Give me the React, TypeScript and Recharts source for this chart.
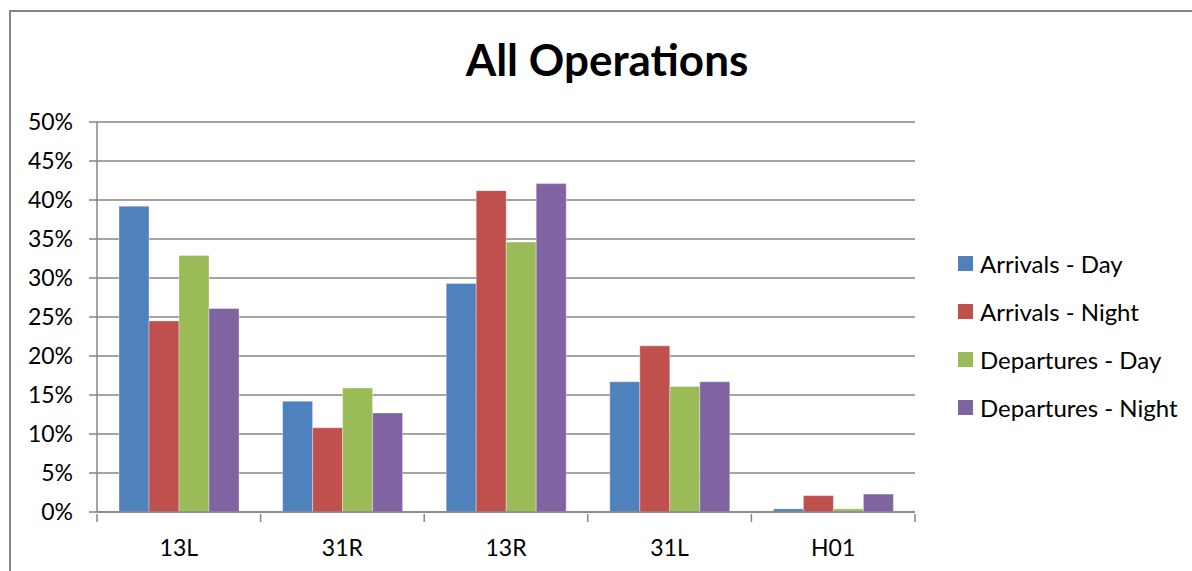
import { Bar, BarChart, CartesianGrid, XAxis, YAxis } from "recharts";

const runways = ["13L", "31R", "13R", "31L", "H01"];
const arrivalsDay = [39.2, 14.2, 29.3, 16.7, 0.4];
const arrivalsNight = [24.5, 10.8, 41.2, 21.3, 2.1];
const departuresDay = [32.9, 15.9, 34.6, 16.1, 0.4];
const departuresNight = [26.1, 12.7, 42.1, 16.7, 2.3];
const percentTicks = [0, 5, 10, 15, 20, 25, 30, 35, 40, 45, 50];

const seriesList = [
  { key: "arrivalsDay", name: "Arrivals - Day", color: "#4F81BD" },
  { key: "arrivalsNight", name: "Arrivals - Night", color: "#C0504D" },
  { key: "departuresDay", name: "Departures - Day", color: "#9BBB59" },
  { key: "departuresNight", name: "Departures - Night", color: "#8064A2" },
];

const data = runways.map((runway, i) => ({
  runway,
  arrivalsDay: arrivalsDay[i],
  arrivalsNight: arrivalsNight[i],
  departuresDay: departuresDay[i],
  departuresNight: departuresNight[i],
}));

const font = "Lato, 'Open Sans', sans-serif";
const axisGray = "#868686";
const plotLeft = 97;
const plotRight = 915;
const bandWidth = (plotRight - plotLeft) / runways.length;

// category label plus Excel-style tick marks on the category boundaries
function RunwayTick(props: any) {
  const { x, y, payload, index } = props;
  const left = x - bandWidth / 2;
  const right = x + bandWidth / 2;
  return (
    <g>
      <line x1={left} x2={left} y1={y} y2={y + 8} stroke={axisGray} strokeWidth={1.5} />
      {index === runways.length - 1 && (
        <line x1={right} x2={right} y1={y} y2={y + 8} stroke={axisGray} strokeWidth={1.5} />
      )}
      <text x={x} y={y + 42} textAnchor="middle" fill="#000" fontSize={23} fontFamily={font}>
        {payload.value}
      </text>
    </g>
  );
}

function LegendBox() {
  return (
    <div style={{ position: "absolute", left: 958, top: 239, fontFamily: font, fontSize: 24, color: "#000" }}>
      {seriesList.map((s) => (
        <div key={s.key} style={{ display: "flex", alignItems: "center", height: 48, whiteSpace: "nowrap" }}>
          <span style={{ width: 15, height: 15, background: s.color, marginRight: 7 }} />
          <span>{s.name}</span>
        </div>
      ))}
    </div>
  );
}

export default function App() {
  return (
    <div style={{ position: "absolute", left: 0, top: 0, width: 1192, height: 571, overflow: "hidden", background: "#fff" }}>
      <div
        style={{
          position: "absolute",
          left: 9,
          top: 10,
          width: 1300,
          height: 700,
          border: `2px solid ${axisGray}`,
        }}
      />
      <div
        style={{
          position: "absolute",
          left: 0,
          width: 1214,
          top: 33,
          textAlign: "center",
          fontFamily: font,
          fontWeight: 700,
          fontSize: 44,
        }}
      >
        All Operations
      </div>
      <div style={{ position: "absolute", left: 0, top: 0 }}>
        <BarChart
          width={1192}
          height={571}
          data={data}
          margin={{ top: 122, right: 1192 - plotRight, bottom: 9, left: plotLeft - 80 }}
          barCategoryGap={22}
          barGap={0}
        >
          <CartesianGrid vertical={false} stroke={axisGray} strokeWidth={1.5} />
          <XAxis
            dataKey="runway"
            height={50}
            axisLine={{ stroke: axisGray, strokeWidth: 1.5 }}
            tickLine={false}
            tickSize={0}
            tick={<RunwayTick />}
          />
          <YAxis
            width={80}
            domain={[0, 50]}
            ticks={percentTicks}
            interval={0}
            tickFormatter={(v) => `${v}%`}
            axisLine={{ stroke: axisGray, strokeWidth: 1.5 }}
            tickSize={8}
            tickLine={{ stroke: axisGray, strokeWidth: 1.5 }}
            tickMargin={16}
            tick={{ fill: "#000", fontSize: 23, fontFamily: font }}
          />
          {seriesList.map((s) => (
            <Bar
              key={s.key}
              dataKey={s.key}
              name={s.name}
              fill={s.color}
              stroke="#ffffff"
              strokeOpacity={0.35}
              strokeWidth={1}
              isAnimationActive={false}
            />
          ))}
        </BarChart>
      </div>
      <LegendBox />
    </div>
  );
}
